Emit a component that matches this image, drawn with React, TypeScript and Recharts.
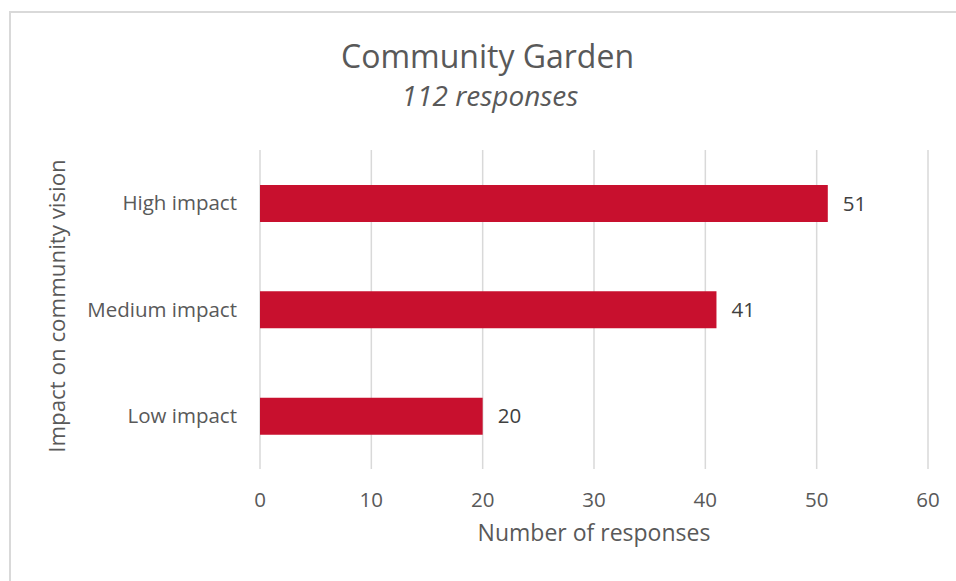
import React from 'react';
import { BarChart, Bar, XAxis, YAxis, CartesianGrid, LabelList, Customized } from 'recharts';

const categories = ['High impact', 'Medium impact', 'Low impact'];
const responses = [51, 41, 20];
const xTicks = [0, 10, 20, 30, 40, 50, 60];
const titleText = 'Community Garden';
const subtitleText = '112 responses';
const xTitle = 'Number of responses';
const yTitle = 'Impact on community vision';

const data = categories.map((c, i) => ({ category: c, value: responses[i] }));

const FONT = '"Open Sans", sans-serif';
const TEXT = '#595959';

const Titles = () => (
  <g>
    <text x={487.5} y={68} textAnchor="middle" fontSize={32} fill={TEXT} fontFamily={FONT}>{titleText}</text>
    <text x={490} y={106} textAnchor="middle" fontSize={28} fontStyle="italic" fill={TEXT} fontFamily={FONT}>{subtitleText}</text>
  </g>
);

export default function App() {
  return (
    <div style={{ position: 'absolute', left: 0, top: 0, width: 956, height: 581, overflow: 'hidden', background: '#fff' }}>
      <div style={{ position: 'absolute', left: 8.5, top: 11, width: 980, height: 620, border: '2px solid #d9d9d9', boxSizing: 'border-box' }} />
      <div style={{ position: 'absolute', left: 0, top: 0 }}>
        <BarChart
          width={956}
          height={581}
          data={data}
          layout="vertical"
          margin={{ top: 150, right: 28, bottom: 72, left: 60 }}
          style={{ fontFamily: FONT }}
        >
          <CartesianGrid horizontal={false} stroke="#d9d9d9" strokeWidth={1.5} />
          <XAxis
            type="number"
            domain={[0, 60]}
            ticks={xTicks}
            interval={0}
            axisLine={false}
            tickLine={false}
            tickMargin={17}
            height={40}
            tick={{ fontSize: 20.5, fill: TEXT, fontFamily: FONT }}
            label={{
              content: () => (
                <text x={594} y={541} textAnchor="middle" fontSize={23} fill={TEXT} fontFamily={FONT}>{xTitle}</text>
              ),
            }}
          />
          <YAxis
            type="category"
            dataKey="category"
            width={200}
            axisLine={false}
            tickLine={false}
            tickMargin={17}
            tick={{ fontSize: 20.5, fill: TEXT, fontFamily: FONT }}
            label={{
              content: () => (
                <text x={65} y={306} textAnchor="middle" fontSize={22.3} fill={TEXT} fontFamily={FONT} transform="rotate(-90, 65, 306)">{yTitle}</text>
              ),
            }}
          />
          <Bar dataKey="value" fill="#C8102E" barSize={37} isAnimationActive={false}>
            <LabelList dataKey="value" position="right" offset={15} fill="#404040" fontSize={20.5} fontFamily={FONT} />
          </Bar>
          <Customized component={Titles} />
        </BarChart>
      </div>
    </div>
  );
}
